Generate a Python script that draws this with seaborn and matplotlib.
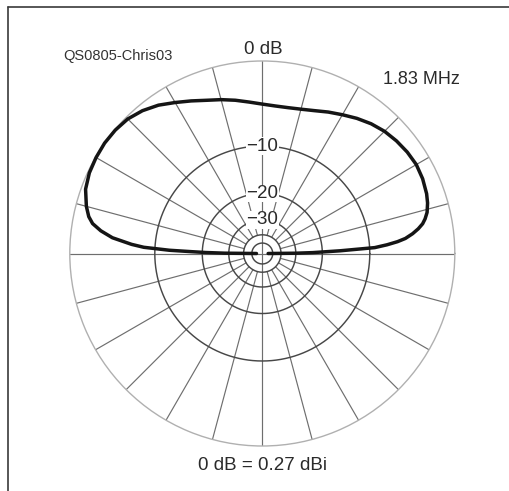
import numpy as np
import pandas as pd
import matplotlib
matplotlib.use("Agg")
import matplotlib.pyplot as plt
from matplotlib.lines import Line2D
import seaborn as sns

# Elevation pattern, 1.83 MHz (angle above the horizon, relative gain in dB)
elevation_deg = [0, 0.5, 1, 2, 3, 4, 5, 6, 7.5, 9, 10.5, 12, 14, 17, 20, 25,
                 30, 35, 40, 45, 50, 55, 60, 65, 70, 75, 80, 85, 90, 95, 100,
                 105, 110, 115, 120, 125, 130, 135, 140, 145, 150, 155, 160,
                 165, 168, 170, 172, 174, 176, 177, 178, 178.5, 179, 179.5, 180]
gain_db = [-60, -30, -23, -15.5, -9.2, -7.4, -6.0, -5.0, -4.1, -3.4, -2.85,
           -2.5, -2.15, -1.85, -1.65, -1.45, -1.36, -1.45, -1.62, -1.85, -2.2,
           -2.65, -3.15, -3.6, -4.05, -4.35, -4.5, -4.5, -4.35, -4.05, -3.65,
           -3.25, -2.85, -2.3, -1.7, -1.05, -0.55, -0.2, -0.05, 0.0, -0.05,
           -0.15, -0.4, -0.95, -1.4, -1.9, -2.85, -4.2, -6.6, -8.3, -12.5,
           -17.0, -21.0, -28.0, -60]

ring_db = [-10, -20, -30, -40, -50]
ring_labels = {-10: "\u221210", -20: "\u221220", -30: "\u221230"}
spoke_angles = list(range(0, 360, 15))

title_left = "QS0805-Chris03"
title_top = "0 dB"
freq_label = "1.83 MHz"
ref_label = "0 dB = 0.27 dBi"


def arrl_radius(db):
    # ARRL log-periodic scale: radius shrinks by a factor 0.89 per 2 dB
    return 0.89 ** (-np.asarray(db, dtype=float) / 2.0)


sns.set_style("white")
plt.rcParams["font.family"] = ["Liberation Sans", "DejaVu Sans"]

W, H = 510, 491
fig = plt.figure(figsize=(W / 100, H / 100), dpi=100)
cx, cy, R = 262.3, 253.5, 192.5
ax = fig.add_axes([(cx - R) / W, (H - cy - R) / H, 2 * R / W, 2 * R / H],
                  projection="polar")

# grid: spokes every 15 degrees, inner ones starting at the -40 dB ring
r_inner = float(arrl_radius(-40))
for a in spoke_angles:
    th = np.deg2rad(a)
    r0 = 0.0 if a % 90 == 0 else r_inner
    ax.plot([th, th], [r0, 1.0], color="#6e6e6e", lw=0.85, zorder=1)

theta_full = np.linspace(0, 2 * np.pi, 721)
for db in ring_db:
    ax.plot(theta_full, np.full_like(theta_full, arrl_radius(db)),
            color="#474747", lw=1.05, zorder=2)

for db, txt in ring_labels.items():
    ax.text(np.pi / 2, float(arrl_radius(db)), txt, ha="center", va="center",
            fontsize=13.5, color="#2a2a2a", zorder=4,
            bbox=dict(boxstyle="square,pad=0.02", fc="white", ec="none"))

# radiation pattern
pattern = pd.DataFrame({"theta": np.deg2rad(elevation_deg),
                        "r": arrl_radius(gain_db)})
sns.lineplot(data=pattern, x="theta", y="r", sort=False, estimator=None,
             color="#151515", lw=2.5, ax=ax, zorder=6)
for ln in ax.lines[-1:]:
    ln.set_clip_on(False)

ax.set_ylim(0, 1)
ax.set_xticks([])
ax.set_yticks([])
ax.grid(False)
ax.set_xlabel("")
ax.set_ylabel("")
ax.spines["polar"].set_color("#b0b0b0")
ax.spines["polar"].set_linewidth(1.0)

# annotations
fig.text(118 / W, 1 - 56 / H, title_left, ha="center", va="center",
         fontsize=10.5, color="#333333")
fig.text(263 / W, 1 - 49.5 / H, title_top, ha="center", va="center",
         fontsize=13.5, color="#2a2a2a")
fig.text(421 / W, 1 - 79 / H, freq_label, ha="center", va="center",
         fontsize=13, color="#2a2a2a")
fig.text(262.5 / W, 1 - 465.5 / H, ref_label, ha="center", va="center",
         fontsize=13.5, color="#2a2a2a")

# frame edges (top and left)
fig.add_artist(Line2D([8 / W, 1.02], [1 - 7 / H, 1 - 7 / H],
                      transform=fig.transFigure, color="#3a3a3a", lw=1.2))
fig.add_artist(Line2D([8 / W, 8 / W], [1 - 7 / H, -0.02],
                      transform=fig.transFigure, color="#3a3a3a", lw=1.2))

fig.savefig("out.png", dpi=100, facecolor="white")
